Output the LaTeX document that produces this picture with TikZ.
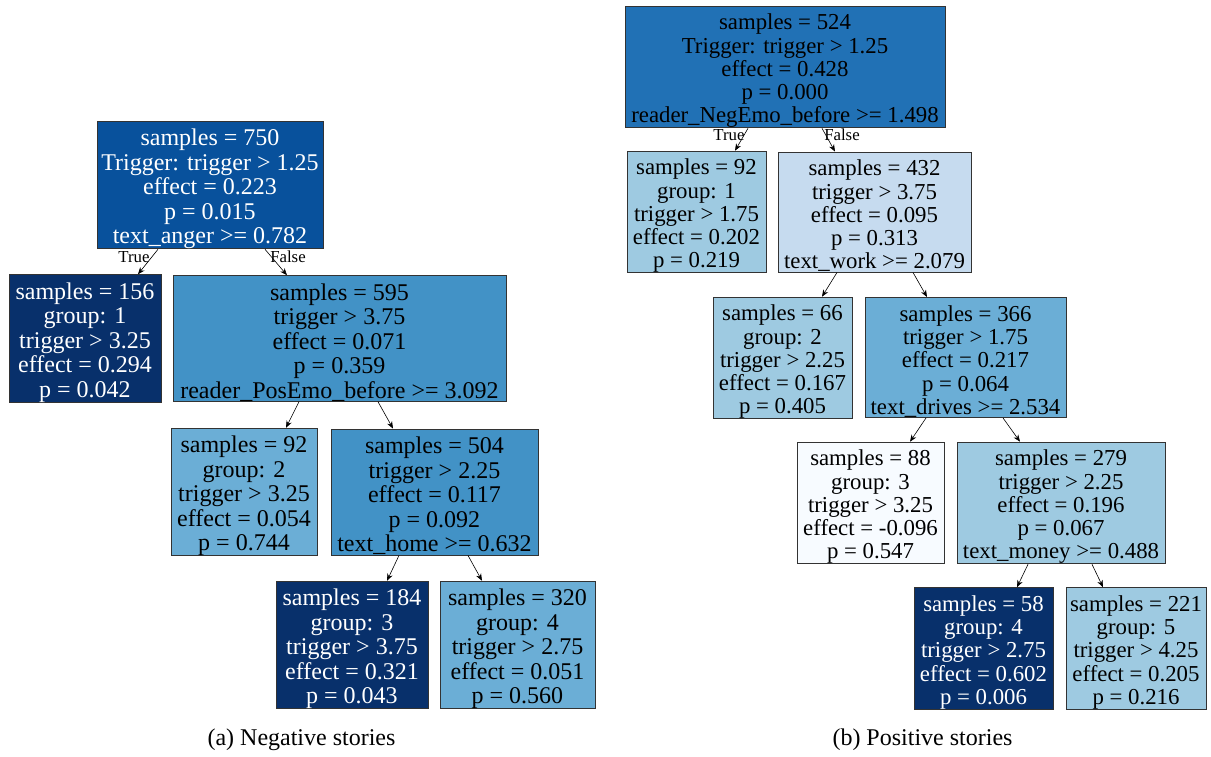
\documentclass[tikz,border=0pt]{standalone}
\usepackage{fontspec}
\setmainfont{Liberation Serif}
\usetikzlibrary{arrows.meta}
\definecolor{cA}{HTML}{08519C}
\definecolor{cB}{HTML}{08306B}
\definecolor{cC}{HTML}{4292C6}
\definecolor{cD}{HTML}{6BAED6}
\definecolor{cE}{HTML}{2171B5}
\definecolor{cF}{HTML}{9ECAE1}
\definecolor{cG}{HTML}{C6DBEF}
\definecolor{cH}{HTML}{F7FBFF}
\newcommand\lfont{\fontsize{24}{24.5}\selectfont}
\newcommand\rfont{\fontsize{22.8}{23.3}\selectfont}
\newcommand\edgefont{\fontsize{16.8}{17}\selectfont}
\newcommand\capfont{\fontsize{24}{25}\selectfont}
\newcommand\lsp{\rule{0pt}{24.5pt}}
\newcommand\rsp{\rule{0pt}{23.6pt}}
\tikzset{
  tn/.style={draw=black!80, line width=0.9pt, inner sep=0pt, align=center, anchor=center},
  ln/.style={tn, font=\lfont},
  rn/.style={tn, font=\rfont},
  dark/.style={text=white},
  arr/.style={-{Stealth[length=7pt,width=5.5pt]}, line width=0.6pt},
  elbl/.style={font=\edgefont, inner sep=0pt},
  caplbl/.style={font=\capfont, inner sep=0pt},
}
\begin{document}
\begin{tikzpicture}[x=1pt,y=-1pt]
\fill[white] (0,0) rectangle (1211,756);
\useasboundingbox (0,0) rectangle (1211,756);

% ---------- left tree ----------
\node[ln, dark, fill=cA, minimum width=226pt, minimum height=126pt] (r750) at (210,185)
  {\lsp samples = 750\\Trigger: trigger > 1.25\\effect = 0.223\\p = 0.015\\text\_anger >= 0.782};
\node[ln, dark, fill=cB, minimum width=152pt, minimum height=125pt] (n156) at (85,338.5)
  {\lsp samples = 156\\group: 1\\trigger > 3.25\\effect = 0.294\\p = 0.042};
\node[ln, fill=cC, minimum width=333pt, minimum height=125pt] (n595) at (339.5,338.5)
  {\lsp samples = 595\\trigger > 3.75\\effect = 0.071\\p = 0.359\\reader\_PosEmo\_before >= 3.092};
\node[ln, fill=cD, minimum width=146pt, minimum height=126pt] (n92) at (244,492)
  {\lsp samples = 92\\group: 2\\trigger > 3.25\\effect = 0.054\\p = 0.744};
\node[ln, fill=cC, minimum width=207pt, minimum height=126pt] (n504) at (434.5,492)
  {\lsp samples = 504\\trigger > 2.25\\effect = 0.117\\p = 0.092\\text\_home >= 0.632};
\node[ln, dark, fill=cB, minimum width=152pt, minimum height=126pt] (n184) at (352,645)
  {\lsp samples = 184\\group: 3\\trigger > 3.75\\effect = 0.321\\p = 0.043};
\node[ln, fill=cD, minimum width=155pt, minimum height=126pt] (n320) at (517.5,645)
  {\lsp samples = 320\\group: 4\\trigger > 2.75\\effect = 0.051\\p = 0.560};

\draw[arr] ([xshift=-52pt]r750.south) -- ([xshift=53pt]n156.north);
\draw[arr] ([xshift=55pt]r750.south) -- ([xshift=-52.5pt]n595.north);
\draw[arr] ([xshift=-40.5pt]n595.south) -- ([xshift=42pt]n92.north);
\draw[arr] ([xshift=38.5pt]n595.south) -- ([xshift=-41.5pt]n504.north);
\draw[arr] ([xshift=-35.5pt]n504.south) -- ([xshift=35pt]n184.north);
\draw[arr] ([xshift=33.5pt]n504.south) -- ([xshift=-35.5pt]n320.north);
\node[elbl] (lt) at (134,257) {True};
\node[elbl] (lf) at (288,257) {False};

% ---------- right tree ----------
\node[rn, fill=cE, minimum width=320pt, minimum height=120pt] (r524) at (785,67)
  {\rsp samples = 524\\Trigger: trigger > 1.25\\effect = 0.428\\p = 0.000\\reader\_NegEmo\_before >= 1.498};
\node[rn, fill=cF, minimum width=139pt, minimum height=120pt] (m92) at (696.5,212)
  {\rsp samples = 92\\group: 1\\trigger > 1.75\\effect = 0.202\\p = 0.219};
\node[rn, fill=cG, minimum width=193pt, minimum height=120pt] (m432) at (874.5,212)
  {\rsp samples = 432\\trigger > 3.75\\effect = 0.095\\p = 0.313\\text\_work >= 2.079};
\node[rn, fill=cF, minimum width=139pt, minimum height=120pt] (m66) at (782.5,358)
  {\rsp samples = 66\\group: 2\\trigger > 2.25\\effect = 0.167\\p = 0.405};
\node[rn, fill=cD, minimum width=201pt, minimum height=120pt] (m366) at (965.5,357.5)
  {\rsp samples = 366\\trigger > 1.75\\effect = 0.217\\p = 0.064\\text\_drives >= 2.534};
\node[rn, fill=cH, minimum width=147pt, minimum height=120pt] (m88) at (870.5,503)
  {\rsp samples = 88\\group: 3\\trigger > 3.25\\effect = -0.096\\p = 0.547};
\node[rn, fill=cF, minimum width=208pt, minimum height=120pt] (m279) at (1061,503)
  {\rsp samples = 279\\trigger > 2.25\\effect = 0.196\\p = 0.067\\text\_money >= 0.488};
\node[rn, dark, fill=cB, minimum width=139pt, minimum height=119pt] (m58) at (983.5,648.5)
  {\rsp samples = 58\\group: 4\\trigger > 2.75\\effect = 0.602\\p = 0.006};
\node[rn, fill=cF, minimum width=140pt, minimum height=119pt] (m221) at (1136,648.5)
  {\rsp samples = 221\\group: 5\\trigger > 4.25\\effect = 0.205\\p = 0.216};

\draw[arr] ([xshift=-37pt]r524.south) -- ([xshift=38.5pt]m92.north);
\draw[arr] ([xshift=37pt]r524.south) -- ([xshift=-39.5pt]m432.north);
\draw[arr] ([xshift=-37.5pt]m432.south) -- ([xshift=39.5pt]m66.north);
\draw[arr] ([xshift=38.5pt]m432.south) -- ([xshift=-38.5pt]m366.north);
\draw[arr] ([xshift=-39.5pt]m366.south) -- ([xshift=39.5pt]m88.north);
\draw[arr] ([xshift=37.5pt]m366.south) -- ([xshift=-41pt]m279.north);
\draw[arr] ([xshift=-33pt]m279.south) -- ([xshift=33.5pt]m58.north);
\draw[arr] ([xshift=31pt]m279.south) -- ([xshift=-33pt]m221.north);
\node[elbl] (rt) at (729,135) {True};
\node[elbl] (rf) at (842,135) {False};

% ---------- captions ----------
\node[caplbl] (capa) at (301.5,740) {(a) Negative stories};
\node[caplbl] (capb) at (922.5,740) {(b) Positive stories};
\end{tikzpicture}
\end{document}
